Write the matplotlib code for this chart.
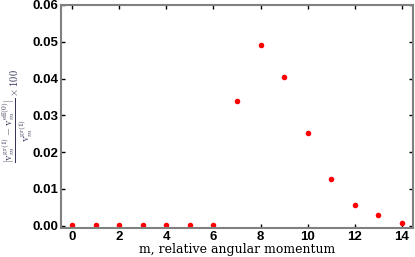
import matplotlib
matplotlib.use("Agg")
import matplotlib.pyplot as plt

m_values = [0, 1, 2, 3, 4, 5, 6, 7, 8, 9, 10, 11, 12, 13, 14]
rel_diff = [0.0001, 0.0001, 0.0001, 0.0001, 0.0001, 0.0001, 0.0001,
            0.0339, 0.0492, 0.0403, 0.0253, 0.0127, 0.0057, 0.0030, 0.0008]
xticks = [0, 2, 4, 6, 8, 10, 12, 14]
yticks = [0.00, 0.01, 0.02, 0.03, 0.04, 0.05, 0.06]

plt.rcParams['mathtext.fontset'] = 'cm'
fig = plt.figure(figsize=(4.15, 2.57), dpi=100)
ax = fig.add_axes([0.147, 0.113, 0.848, 0.868])
ax.plot(m_values, rel_diff, 'o', color='red', markersize=4, markeredgewidth=0)
ax.set_xlim(-0.47, 14.47)
ax.set_ylim(-0.0006, 0.06)
ax.set_xticks(xticks)
ax.set_yticks(yticks)
ax.set_yticklabels([f"{v:.2f}" for v in yticks])
for lab in ax.get_xticklabels() + ax.get_yticklabels():
    lab.set_fontweight('bold')
    lab.set_fontsize(9.5)
    lab.set_family('Liberation Sans')
ax.tick_params(direction='in', top=True, right=True, length=3, width=1, pad=2)
for s in ax.spines.values():
    s.set_color('#808080')
    s.set_linewidth(1.5)
ax.set_xlabel('m, relative angular momentum', family='DejaVu Serif', fontsize=9, labelpad=0)
fig.text(17 / 415, 1 - 116 / 257,
         r'$\dfrac{|\mathrm{v}_m^{\mathrm{gr}(1)} - \mathrm{v}_m^{\mathrm{eff}(0)}|}'
         r'{\mathrm{v}_m^{\mathrm{gr}(1)}} \times 100$',
         fontsize=7.5, color='#333355', rotation=90, ha='center', va='center')
fig.savefig('out.png', dpi=100)
